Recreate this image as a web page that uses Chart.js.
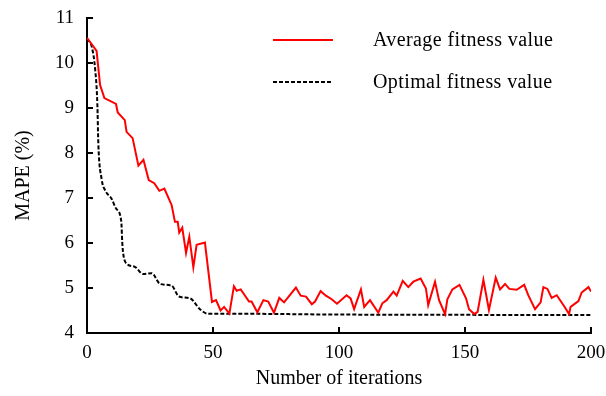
<!DOCTYPE html>
<html>
<head>
<meta charset="utf-8">
<script src="https://cdn.jsdelivr.net/npm/chart.js@4.4.0/dist/chart.umd.min.js"></script>
<style>
html, body { margin: 0; padding: 0; background: #fff; }
</style>
</head>
<body>
<canvas id="fitnessChart" width="606" height="396"></canvas>
<script>
// Values (iteration, MAPE %)
const avgIterations = [0, 3.8, 5.2, 6.9, 11.5, 12.2, 15, 15.7, 18.1, 20.4, 22.4, 24.5, 26.7, 28.7, 30.7, 33.6, 34.9, 36, 36.6, 37.8,
    39.3, 40.6, 42.2, 43.5, 46.8, 49.6, 51.2, 53, 54.4, 56.5, 58.3, 59.4, 61, 64.3, 65.3, 67.6, 70, 71.9, 74.2, 76.3,
    78.2, 82.9, 84.8, 86.9, 89.2, 90.5, 92.7, 94.8, 97.1, 99.2, 103, 104.6, 106, 108.7, 110, 112.3, 115.6, 117.2, 118.9, 121.6,
    122.9, 125.3, 127.5, 129.5, 132.4, 134.5, 135.4, 138.1, 139.7, 142.1, 143, 145, 147.8, 150.4, 151.6, 153.7, 155, 157.3, 159.5, 162.2,
    163.9, 165.9, 167.6, 170.5, 173.5, 175.1, 177.8, 180, 181.1, 182.7, 184.4, 186.4, 189.3, 191.3, 191.9, 195, 196.3, 199, 200];
const avgFitness = [10.56, 10.27, 9.51, 9.22, 9.09, 8.9, 8.73, 8.47, 8.33, 7.72, 7.85, 7.4, 7.33, 7.16, 7.21, 6.84, 6.47, 6.47, 6.23, 6.34,
    5.78, 6.14, 5.46, 5.96, 6.01, 4.69, 4.73, 4.5, 4.58, 4.43, 5.04, 4.94, 4.97, 4.70, 4.70, 4.46, 4.73, 4.70, 4.45, 4.78,
    4.68, 5.01, 4.83, 4.81, 4.64, 4.70, 4.93, 4.83, 4.75, 4.65, 4.84, 4.77, 4.53, 4.97, 4.58, 4.73, 4.45, 4.66, 4.73, 4.92,
    4.83, 5.16, 5.02, 5.14, 5.21, 4.99, 4.62, 5.14, 4.73, 4.42, 4.75, 4.97, 5.07, 4.77, 4.53, 4.42, 4.47, 5.18, 4.51, 5.23,
    4.97, 5.09, 4.98, 4.96, 5.07, 4.84, 4.53, 4.68, 5.02, 4.98, 4.78, 4.84, 4.60, 4.42, 4.58, 4.71, 4.90, 5.02, 4.92];

const optIterations = [0, 1.9, 3.2, 4.1, 4.5, 5.8, 7.1, 9.8, 11.6, 13.6, 14.0, 14.4, 16, 19, 22.3, 25.7, 29, 33.6, 36.5, 40.9,
    44.8, 47.8, 52.8, 100, 200];
const optFitness = [10.53, 10.36, 9.88, 9.1, 8.2, 7.42, 7.18, 6.98, 6.76, 6.48, 6.0, 5.75, 5.53, 5.47, 5.31, 5.33, 5.09, 5.05, 4.81, 4.77,
    4.53, 4.43, 4.43, 4.41, 4.40];

const xTicks = [0, 50, 100, 150, 200];
const yTicks = [4, 5, 6, 7, 8, 9, 10, 11];

const serif = '"Liberation Serif", "Times New Roman", serif';
Chart.defaults.color = '#000';
Chart.defaults.font.family = serif;
Chart.defaults.font.size = 19;

// Tick marks pointing into the plot
const innerTicks = {
    id: 'innerTicks',
    afterDraw(chart) {
        const { ctx, scales: { x, y } } = chart;
        ctx.save();
        ctx.strokeStyle = '#000';
        ctx.lineWidth = 2;
        ctx.beginPath();
        xTicks.forEach(v => {
            const px = Math.round(x.getPixelForValue(v));
            ctx.moveTo(px, x.top);
            ctx.lineTo(px, x.top - 6);
        });
        yTicks.forEach(v => {
            const py = Math.round(y.getPixelForValue(v));
            ctx.moveTo(y.right, py);
            ctx.lineTo(y.right + 6, py);
        });
        ctx.stroke();
        ctx.restore();
    }
};

// Legend inside the plot, line sample on the left and label after a gap
const sideLegend = {
    id: 'sideLegend',
    afterDraw(chart) {
        const { ctx } = chart;
        chart.data.datasets.forEach((ds, i) => {
            const y = 40 + i * 42;
            ctx.save();
            ctx.strokeStyle = ds.borderColor;
            ctx.lineWidth = ds.borderWidth;
            ctx.setLineDash(ds.borderDash || []);
            ctx.beginPath();
            ctx.moveTo(273, y);
            ctx.lineTo(333, y);
            ctx.stroke();
            ctx.setLineDash([]);
            ctx.fillStyle = '#000';
            ctx.font = '20px ' + serif;
            ctx.letterSpacing = '0.4px';
            ctx.textBaseline = 'middle';
            ctx.fillText(ds.label, 373, y + 1);
            ctx.restore();
        });
    }
};

const ctx = document.getElementById('fitnessChart');
new Chart(ctx, {
    type: 'line',
    data: {
        datasets: [{
            label: 'Average fitness value',
            data: avgIterations.map((it, i) => ({ x: it, y: avgFitness[i] })),
            borderColor: '#ff0000',
            borderWidth: 2,
            pointRadius: 0,
            tension: 0
        }, {
            label: 'Optimal fitness value',
            data: optIterations.map((it, i) => ({ x: it, y: optFitness[i] })),
            borderColor: '#000000',
            borderWidth: 2,
            borderDash: [4, 2],
            pointRadius: 0,
            cubicInterpolationMode: 'monotone'
        }]
    },
    options: {
        responsive: false,
        animation: false,
        layout: { padding: { left: 0, right: 15, top: 18, bottom: 0 } },
        plugins: {
            legend: { display: false },
            tooltip: { enabled: false }
        },
        scales: {
            x: {
                type: 'linear',
                min: 0,
                max: 200,
                afterBuildTicks: scale => { scale.ticks = xTicks.map(v => ({ value: v })); },
                afterFit: scale => {
                    scale.height = 63;
                    scale.paddingLeft = 0;
                    scale.paddingRight = 0;
                },
                grid: { display: false, drawTicks: false },
                border: { display: true, color: '#000', width: 2 },
                ticks: { padding: 9, maxRotation: 0, font: { size: 19 } },
                title: {
                    display: true,
                    text: 'Number of iterations',
                    font: { size: 20 },
                    padding: { top: 0, bottom: 5 }
                }
            },
            y: {
                min: 4,
                max: 11,
                afterBuildTicks: scale => { scale.ticks = yTicks.map(v => ({ value: v })); },
                afterFit: scale => {
                    scale.width = 87;
                    scale.paddingTop = 0;
                    scale.paddingBottom = 0;
                },
                grid: { display: false, drawTicks: false },
                border: { display: true, color: '#000', width: 2 },
                ticks: { padding: 13, font: { size: 19 } },
                title: {
                    display: true,
                    text: 'MAPE (%)',
                    font: { size: 20 },
                    padding: { top: 12, bottom: 0 }
                }
            }
        }
    },
    plugins: [innerTicks, sideLegend]
});
</script>
</body>
</html>
